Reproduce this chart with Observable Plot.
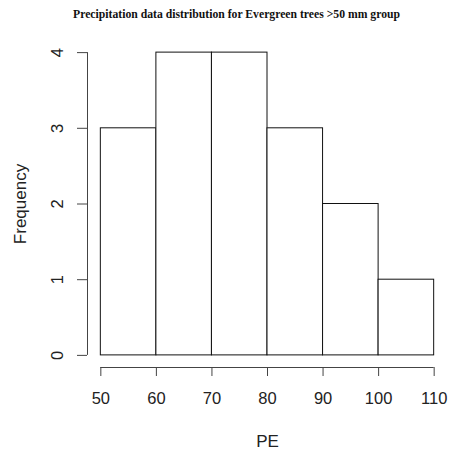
<!DOCTYPE html>
<html>
<head>
<meta charset="utf-8">
<script src="https://cdn.jsdelivr.net/npm/d3@7"></script>
<script src="https://cdn.jsdelivr.net/npm/@observablehq/plot@0.6"></script>
<style>
  html, body { margin: 0; padding: 0; background: #fff; }
  #title { height: 30px; line-height: 30px; width: 451px; font-family: "Liberation Serif", "DejaVu Serif", serif; font-weight: bold; font-size: 11.7px; color: #111; }
  #title span { display: block; position: relative; left: 11px; text-align: center; }
  svg { display: block; }
</style>
</head>
<body>
<div id="title"><span>Precipitation data distribution for Evergreen trees &gt;50 mm group</span></div>
<div id="chart"></div>
<script>
const binStarts = [50, 60, 70, 80, 90, 100];
const binEnds = [60, 70, 80, 90, 100, 110];
const counts = [3, 4, 4, 3, 2, 1];
const xTicks = [50, 60, 70, 80, 90, 100, 110];
const yTicks = [0, 1, 2, 3, 4];
const xLabel = "PE";
const yLabel = "Frequency";

const bins = binStarts.map((s, i) => ({x1: s, x2: binEnds[i], count: counts[i]}));

// R-style 4% axis extension
const xMin = 50 - 0.04 * 60, xMax = 110 + 0.04 * 60;
const yMin = -0.04 * 4, yMax = 4 + 0.04 * 4;

const chart = Plot.plot({
  width: 451,
  height: 423,
  marginLeft: 87,
  marginRight: 4,
  marginTop: 10,
  marginBottom: 86,
  style: {fontFamily: "Liberation Sans, Arial, sans-serif", background: "#fff", color: "#222"},
  x: {domain: [xMin, xMax]},
  y: {domain: [yMin, yMax]},
  marks: [
    Plot.rectY(bins, {x1: "x1", x2: "x2", y1: 0, y2: "count", fill: "white", stroke: "#111", strokeWidth: 1}),
    Plot.ruleX([xMin], {y1: yTicks[0], y2: yTicks[yTicks.length - 1], stroke: "#444"}),
    Plot.ruleY([yMin], {x1: xTicks[0], x2: xTicks[xTicks.length - 1], stroke: "#444"}),
    Plot.axisX({ticks: xTicks, tickSize: 9, tickPadding: 16, fontSize: 16.5, stroke: "#444", fill: "#222", tickFormat: d3.format("d"), label: null}),
    Plot.axisY({ticks: yTicks, tickSize: 10, tickPadding: 15, tickRotate: -90, fontSize: 16.5, stroke: "#444", fill: "#222", tickFormat: d3.format("d"), label: null}),
    Plot.text([xLabel], {frameAnchor: "bottom", dy: 79, fontSize: 17, fill: "#222", text: d => d}),
    Plot.text([yLabel], {frameAnchor: "left", textAnchor: "middle", dx: -67, rotate: -90, fontSize: 17, fill: "#222", text: d => d})
  ]
});
document.getElementById("chart").appendChild(chart);
</script>
</body>
</html>
